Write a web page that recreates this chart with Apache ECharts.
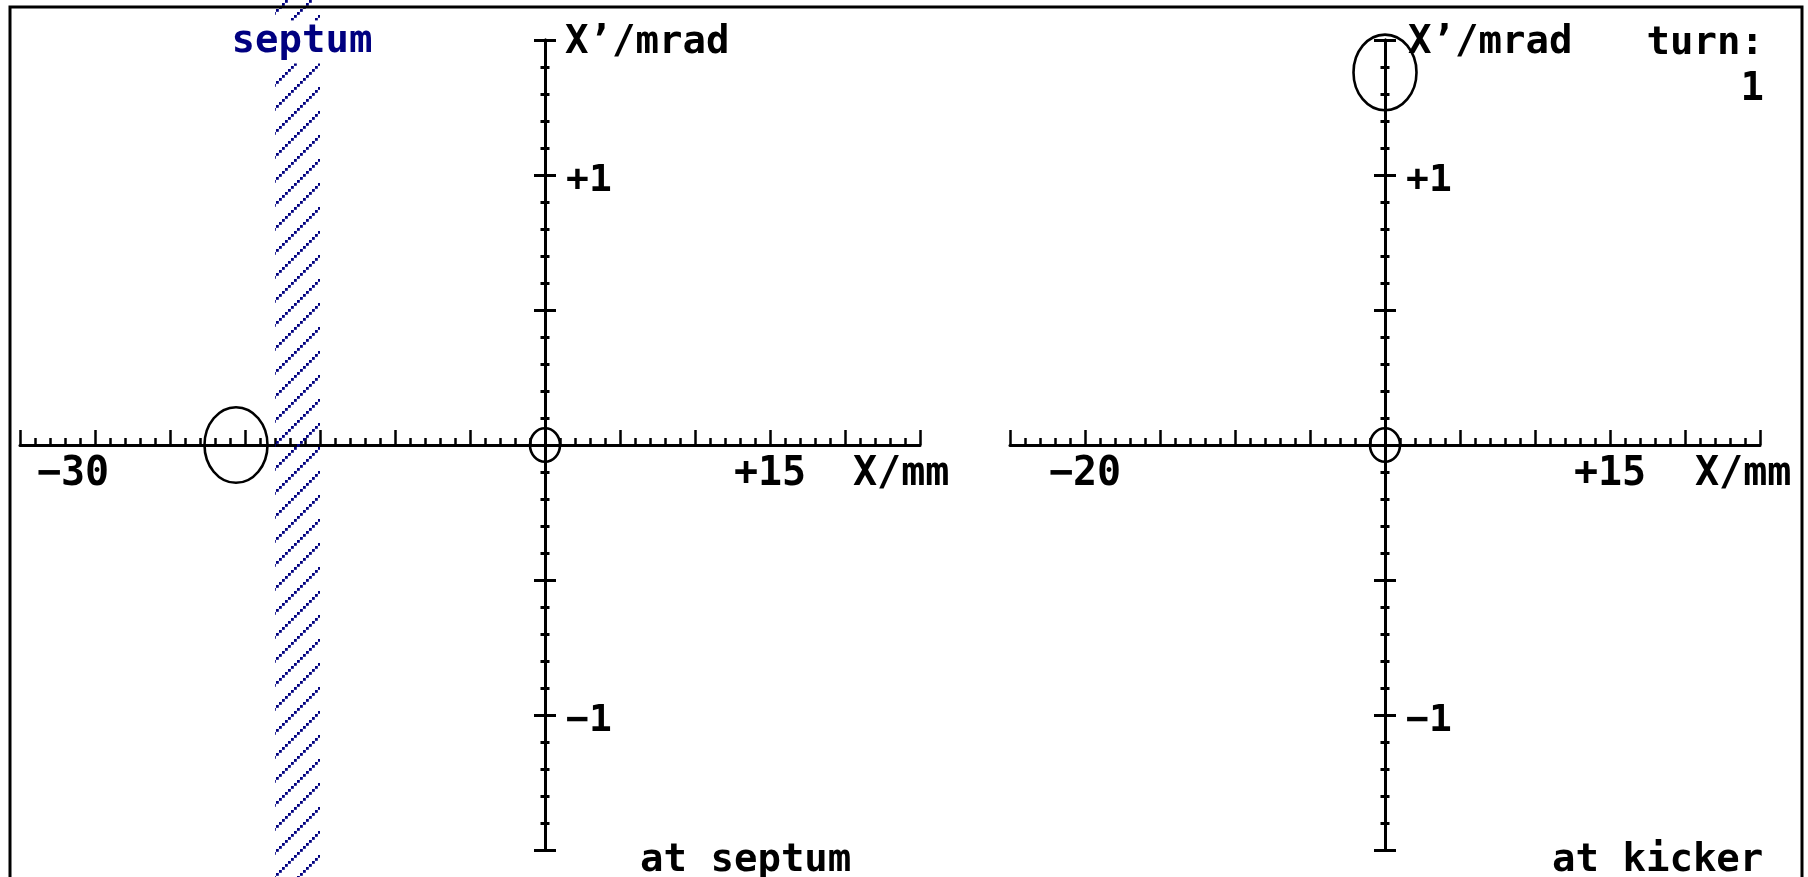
<!DOCTYPE html>
<html>
<head>
<meta charset="utf-8">
<script src="https://cdn.jsdelivr.net/npm/echarts@6/dist/echarts.min.js"></script>
<style>
  html, body { margin: 0; padding: 0; background: #fff; }
  #chart { width: 1808px; height: 877px; }
</style>
</head>
<body>
<div id="chart"></div>
<script>
// Phase-space view of an injected beam: X (mm) against X' (mrad),
// left panel at the septum, right panel at the kicker.
const septumXRange = [-35, 25];
const kickerXRange = [-25, 25];
const xpRange = [-1.5, 1.5];

const septumXTickLabels = [[-30, '\u221230'], [15, '+15']];
const kickerXTickLabels = [[-20, '\u221220'], [15, '+15']];
const xpTickLabels = [[1, '+1'], [-1, '\u22121']];

// beam ellipses: [centre X (mm), centre X' (mrad), half-width (mm), half-height (mrad)]
const septumBeam = [[-20.6, 0, 2.1, 0.14], [0, 0, 1.0, 0.062]];
const kickerBeam = [[0, 1.38, 2.1, 0.14], [0, 0, 1.0, 0.062]];

// septum blade: [inner edge, outer edge] in mm
const septumBlade = [[-18, -15]];

const turnNumber = 1;

const FONT = '"DejaVu Sans Mono", monospace';
const INK = '#000';
const NAVY = '#000080';

// hatch tile for the septum blade: dotted 45° strokes
function hatchTile() {
  const c = document.createElement('canvas');
  c.width = 24; c.height = 24;
  const g = c.getContext('2d');
  g.fillStyle = NAVY;
  for (let i = 0; i < 8; i++) {
    g.fillRect(i * 3, 24 - 3 - i * 3, 2.8, 2.8);
  }
  return c;
}

function xAxisFor(gridIndex, range, yIndex) {
  return {
    type: 'value', gridIndex, min: range[0], max: range[1], interval: 5,
    axisLine: { show: true, onZero: true, onZeroAxisIndex: yIndex,
      lineStyle: { color: INK, width: 3 } },
    axisTick: { show: true, inside: true, length: 15, lineStyle: { color: INK, width: 2.5 } },
    minorTick: { show: true, splitNumber: 5, length: 7, lineStyle: { color: INK, width: 2.5 } },
    splitLine: { show: false },
    minorSplitLine: { show: false },
    axisLabel: { show: false }
  };
}

function yAxisFor(gridIndex, xIndex, side) {
  return {
    type: 'value', gridIndex, position: side, min: xpRange[0], max: xpRange[1], interval: 0.5,
    axisLine: { show: true, onZero: true, onZeroAxisIndex: xIndex,
      lineStyle: { color: INK, width: 3 } },
    axisTick: { show: true, length: 11, lineStyle: { color: INK, width: 3 } },
    minorTick: { show: true, splitNumber: 5, length: 4.5, lineStyle: { color: INK, width: 3 } },
    splitLine: { show: false },
    minorSplitLine: { show: false },
    axisLabel: { show: false }
  };
}

function ellipseSeries(xIndex, yIndex, data) {
  return {
    type: 'custom', xAxisIndex: xIndex, yAxisIndex: yIndex, z: 4, clip: false,
    encode: { x: 0, y: 1 },
    data,
    renderItem: (params, api) => {
      const c = api.coord([api.value(0), api.value(1)]);
      const s = api.size([api.value(2), api.value(3)]);
      return {
        type: 'ellipse',
        shape: { cx: c[0], cy: c[1], rx: s[0], ry: s[1] },
        style: { fill: 'none', stroke: INK, lineWidth: 2.6 }
      };
    }
  };
}

// tick labels set against the axis lines that run through the origin
function xTickLabelSeries(xIndex, yIndex, labels, nudge) {
  return {
    type: 'custom', xAxisIndex: xIndex, yAxisIndex: yIndex, z: 5, clip: false,
    encode: { x: 0, y: 1 },
    data: labels.map(([v]) => [v, 0]),
    renderItem: (params, api) => {
      const v = api.value(0);
      const p = api.coord([v, 0]);
      const dx = (nudge && nudge[v]) || 0;
      const text = labels[params.dataIndex][1];
      return {
        type: 'text',
        style: {
          text, x: p[0] + dx, y: p[1] + 30, fill: INK,
          font: 'bold 40px ' + FONT,
          textAlign: 'center', align: 'center',
          textVerticalAlign: 'middle', verticalAlign: 'middle'
        }
      };
    }
  };
}

function yTickLabelSeries(xIndex, yIndex) {
  return {
    type: 'custom', xAxisIndex: xIndex, yAxisIndex: yIndex, z: 5, clip: false,
    encode: { x: 0, y: 1 },
    data: xpTickLabels.map(([v]) => [0, v]),
    renderItem: (params, api) => {
      const p = api.coord([0, api.value(1)]);
      const text = xpTickLabels[params.dataIndex][1];
      return {
        type: 'text',
        style: {
          text, x: p[0] + 21, y: p[1] + 6, fill: INK,
          font: 'bold 38px ' + FONT,
          textAlign: 'left', align: 'left',
          textVerticalAlign: 'middle', verticalAlign: 'middle'
        }
      };
    }
  };
}

const tile = hatchTile();

function txt(text, x, y, align, color, extra) {
  return {
    type: 'text', z: 20,
    style: Object.assign({
      text, x, y, fill: color || INK,
      font: 'bold 39px ' + FONT,
      textAlign: align, align: align,
      textVerticalAlign: 'middle', verticalAlign: 'middle'
    }, extra || {})
  };
}

const option = {
  backgroundColor: '#fff',
  animation: false,
  grid: [
    { left: 20, top: 40, width: 900, height: 810, outerBoundsMode: 'none' },
    { left: 1010, top: 40, width: 750, height: 810, outerBoundsMode: 'none' }
  ],
  xAxis: [
    xAxisFor(0, septumXRange, 0),
    xAxisFor(1, kickerXRange, 2)
  ],
  yAxis: [
    yAxisFor(0, 0, 'left'),
    yAxisFor(0, 0, 'right'),
    yAxisFor(1, 1, 'left'),
    yAxisFor(1, 1, 'right')
  ],
  series: [
    {
      // hatched septum blade across the full height of the frame
      type: 'custom', xAxisIndex: 0, yAxisIndex: 0, z: 1, clip: false,
      encode: { x: [0, 1] },
      data: septumBlade,
      renderItem: (params, api) => {
        const x0 = api.coord([api.value(0), 0])[0];
        const x1 = api.coord([api.value(1), 0])[0];
        return {
          type: 'rect',
          shape: { x: x0, y: 0, width: x1 - x0, height: api.getHeight() },
          style: { fill: { image: tile, repeat: 'repeat' }, stroke: 'none' }
        };
      }
    },
    ellipseSeries(0, 0, septumBeam),
    ellipseSeries(1, 2, kickerBeam),
    xTickLabelSeries(0, 0, septumXTickLabels, { '-30': -22 }),
    xTickLabelSeries(1, 2, kickerXTickLabels, null),
    yTickLabelSeries(0, 1),
    yTickLabelSeries(1, 3)
  ],
  graphic: [
    {
      type: 'rect', z: 20,
      shape: { x: 10, y: 7, width: 1792, height: 900 },
      style: { fill: 'none', stroke: INK, lineWidth: 3 }
    },
    txt('septum', 302, 42, 'center', NAVY, { backgroundColor: '#fff', padding: [2, 4, 2, 4] }),
    txt('X\u2019/mrad', 565, 43, 'left'),
    txt('X\u2019/mrad', 1408, 43, 'left'),
    txt('turn:', 1764, 44, 'right'),
    txt(String(turnNumber), 1764, 90, 'right'),
    txt('X/mm', 853, 475, 'left', INK, { font: 'bold 40px ' + FONT }),
    txt('X/mm', 1695, 475, 'left', INK, { font: 'bold 40px ' + FONT }),
    txt('at septum', 640, 861, 'left'),
    txt('at kicker', 1552, 861, 'left')
  ]
};

const chart = echarts.init(document.getElementById('chart'), null, { renderer: 'canvas' });
chart.setOption(option);
</script>
</body>
</html>
